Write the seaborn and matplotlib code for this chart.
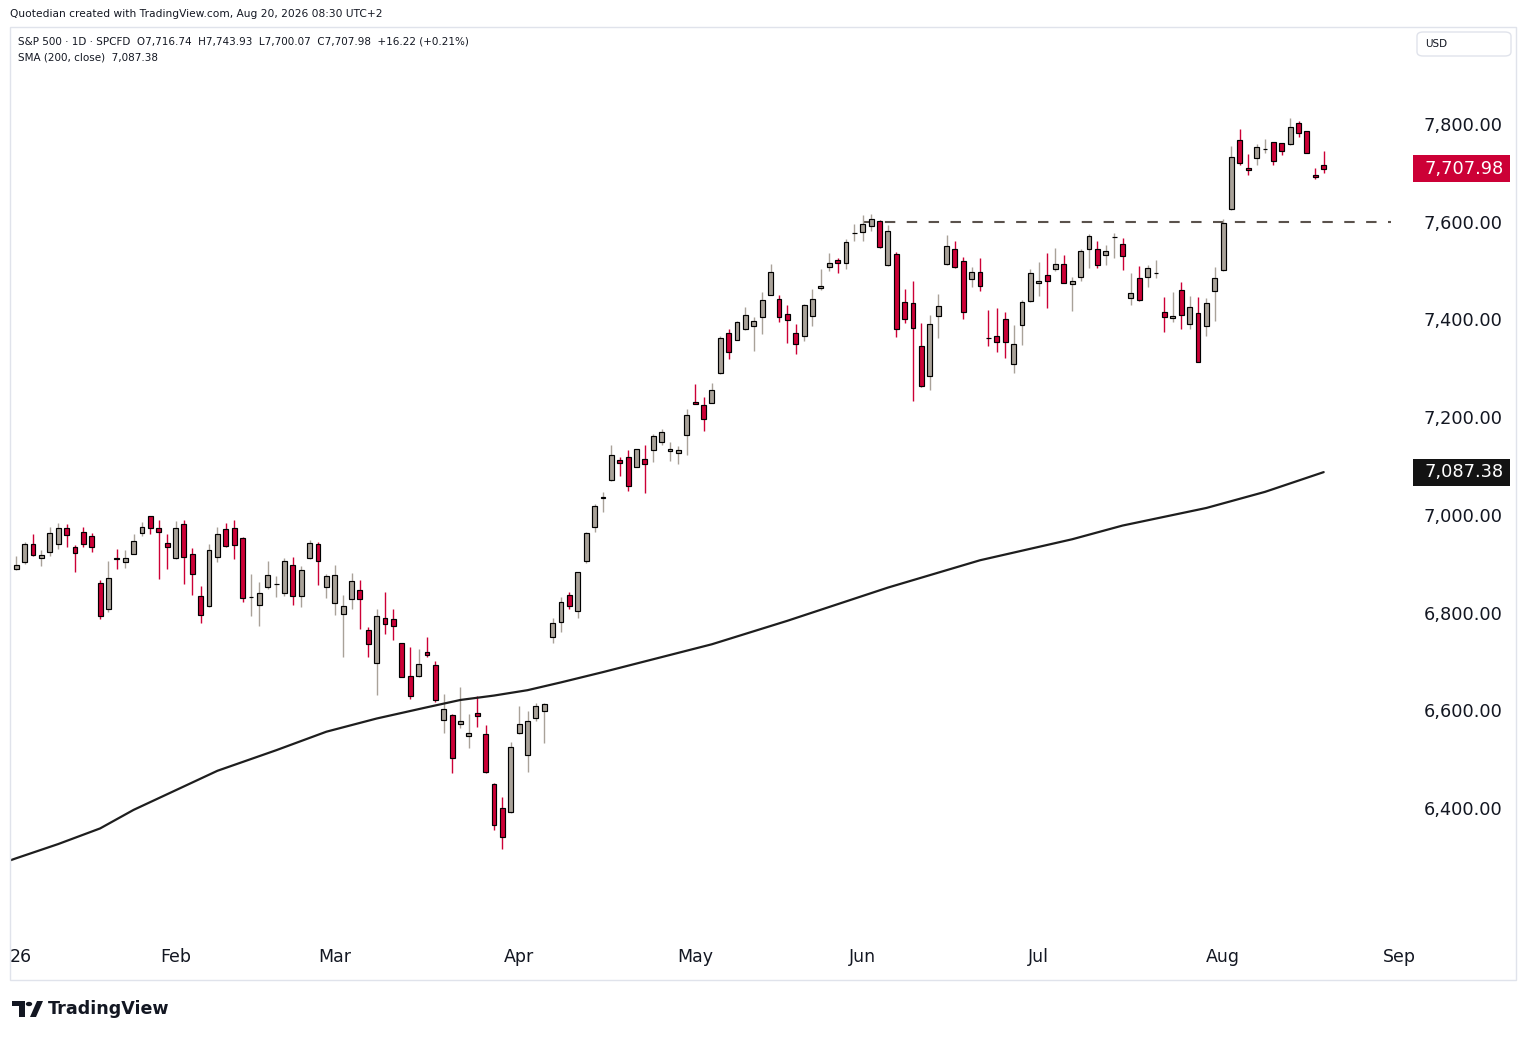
import numpy as np
import pandas as pd
import matplotlib
matplotlib.use("Agg")
import matplotlib.pyplot as plt
import matplotlib.transforms as mtransforms
from matplotlib.patches import Rectangle, FancyBboxPatch, Polygon, Circle
import seaborn as sns

# trading sessions (US market holidays are skipped, as on the chart)
holidays = ["2026-01-19", "2026-02-16", "2026-04-03", "2026-05-25", "2026-06-19", "2026-07-03"]
first_session = "2026-01-05"
last_session = "2026-08-19"

# S&P 500 daily candles, Jan 5 .. Aug 19 2026 (one line per month)
opens = [
    6889, 6903, 6940, 6911, 6924, 6940, 6973, 6934, 6964, 6956, 6860, 6807, 6911, 6903, 6920, 6962, 6997, 6973, 6942,
    6911, 6981, 6919, 6833, 6813, 6913, 6971, 6973, 6953, 6831, 6815, 6852, 6858, 6840, 6897, 6834, 6911, 6940, 6852,
    6819, 6797, 6827, 6846, 6764, 6696, 6788, 6786, 6737, 6670, 6670, 6719, 6692, 6580, 6591, 6572, 6547, 6594, 6551, 6449, 6400, 6391,
    6553, 6508, 6584, 6598, 6750, 6780, 6836, 6803, 6905, 6975, 7035, 7071, 7112, 7118, 7098, 7114, 7132, 7149, 7130, 7126, 7163,
    7231, 7224, 7229, 7290, 7372, 7358, 7380, 7386, 7405, 7450, 7441, 7411, 7372, 7366, 7407, 7464, 7507, 7521, 7515, 7576,
    7579, 7591, 7602, 7511, 7534, 7435, 7433, 7345, 7284, 7407, 7513, 7544, 7519, 7482, 7497, 7362, 7366, 7401, 7309, 7388, 7437,
    7474, 7491, 7503, 7513, 7472, 7487, 7544, 7544, 7532, 7568, 7554, 7444, 7484, 7487, 7494, 7415, 7403, 7460, 7390, 7413, 7386, 7458,
    7501, 7626, 7767, 7710, 7730, 7748, 7763, 7761, 7759, 7802, 7785, 7695, 7716.74,
]
highs = [
    6916, 6945, 6961, 6928, 6976, 6984, 6982, 6939, 6976, 6963, 6866, 6906, 6931, 6928, 6961, 6985, 6998, 6990, 6961,
    6988, 6990, 6932, 6855, 6941, 6975, 6984, 6990, 6954, 6879, 6863, 6906, 6875, 6912, 6914, 6896, 6948, 6944, 6879,
    6898, 6836, 6881, 6867, 6770, 6808, 6842, 6808, 6738, 6730, 6726, 6750, 6701, 6634, 6592, 6648, 6593, 6629, 6570, 6450, 6423, 6535,
    6608, 6599, 6615, 6615, 6789, 6831, 6842, 6883, 6964, 7022, 7047, 7143, 7118, 7133, 7135, 7143, 7166, 7175, 7149, 7141, 7216,
    7268, 7241, 7270, 7366, 7380, 7396, 7426, 7405, 7456, 7513, 7450, 7430, 7391, 7432, 7463, 7504, 7536, 7525, 7564, 7596,
    7614, 7616, 7603, 7594, 7538, 7463, 7479, 7393, 7409, 7452, 7573, 7561, 7528, 7507, 7525, 7419, 7423, 7415, 7388, 7440, 7503,
    7518, 7536, 7547, 7532, 7486, 7544, 7575, 7561, 7553, 7577, 7567, 7495, 7509, 7511, 7522, 7446, 7457, 7476, 7448, 7446, 7444, 7508,
    7606, 7755, 7790, 7738, 7759, 7770, 7764, 7762, 7813, 7807, 7786, 7710, 7743.93,
]
lows = [
    6887, 6900, 6916, 6896, 6915, 6931, 6935, 6882, 6935, 6923, 6786, 6802, 6890, 6891, 6919, 6956, 6960, 6868, 6890,
    6910, 6859, 6835, 6778, 6812, 6903, 6935, 6909, 6821, 6792, 6773, 6848, 6831, 6833, 6816, 6812, 6910, 6857, 6829,
    6794, 6708, 6808, 6767, 6708, 6632, 6757, 6743, 6667, 6623, 6669, 6708, 6617, 6554, 6471, 6563, 6522, 6565, 6471, 6354, 6315, 6390,
    6552, 6473, 6577, 6532, 6737, 6760, 6807, 6788, 6902, 6964, 7005, 7070, 7080, 7048, 7097, 7044, 7109, 7143, 7111, 7105, 7123,
    7226, 7171, 7228, 7289, 7318, 7357, 7379, 7336, 7371, 7449, 7394, 7351, 7330, 7355, 7386, 7460, 7499, 7496, 7504, 7560,
    7560, 7580, 7546, 7510, 7365, 7392, 7234, 7262, 7255, 7361, 7512, 7506, 7400, 7466, 7458, 7345, 7334, 7320, 7291, 7347, 7435,
    7447, 7424, 7499, 7474, 7418, 7478, 7505, 7505, 7511, 7525, 7501, 7429, 7437, 7466, 7484, 7374, 7394, 7380, 7380, 7312, 7367, 7396,
    7500, 7625, 7717, 7695, 7716, 7740, 7716, 7736, 7758, 7773, 7740, 7687, 7700.07,
]
closes = [
    6897, 6940, 6918, 6918, 6962, 6973, 6958, 6922, 6940, 6935, 6793, 6870, 6910, 6911, 6946, 6975, 6973, 6964, 6934,
    6973, 6913, 6879, 6795, 6928, 6960, 6937, 6939, 6830, 6832, 6840, 6876, 6859, 6905, 6834, 6887, 6942, 6905, 6874,
    6877, 6813, 6864, 6827, 6735, 6793, 6776, 6772, 6668, 6629, 6694, 6712, 6620, 6602, 6502, 6578, 6553, 6588, 6473, 6364, 6340, 6524,
    6572, 6578, 6608, 6612, 6778, 6821, 6813, 6883, 6963, 7018, 7036, 7122, 7106, 7059, 7134, 7104, 7161, 7169, 7134, 7132, 7204,
    7226, 7196, 7255, 7362, 7333, 7394, 7409, 7396, 7440, 7497, 7405, 7398, 7349, 7429, 7441, 7469, 7515, 7515, 7558, 7577,
    7595, 7605, 7549, 7581, 7380, 7401, 7382, 7263, 7390, 7427, 7550, 7507, 7415, 7497, 7468, 7361, 7354, 7354, 7349, 7435, 7495,
    7478, 7478, 7513, 7474, 7478, 7540, 7570, 7511, 7540, 7569, 7530, 7454, 7439, 7505, 7495, 7405, 7407, 7409, 7425, 7313, 7433, 7484,
    7597, 7732, 7720, 7706, 7753, 7749, 7724, 7744, 7794, 7781, 7740, 7691.76, 7707.98,
]

# SMA(200, close) at a few sessions
sma_dates = ["2026-01-02", "2026-01-05", "2026-01-12", "2026-01-20", "2026-01-26", "2026-01-30", "2026-02-09",
             "2026-02-19", "2026-02-27", "2026-03-09", "2026-03-17", "2026-03-23", "2026-03-27",
             "2026-04-02", "2026-04-09", "2026-04-16", "2026-05-05", "2026-05-18", "2026-06-04",
             "2026-06-22", "2026-07-08", "2026-07-16", "2026-07-30", "2026-08-10", "2026-08-19"]
sma_values = [6291, 6297, 6326, 6358, 6396, 6428, 6476,
              6518, 6556, 6583, 6606, 6621, 6630,
              6641, 6657, 6678, 6735, 6783, 6851,
              6907, 6950, 6978, 7014, 7047, 7087.38]

resistance = 7600
resistance_from, resistance_to = "2026-06-01", "2026-08-31"

price_ticks = [6400, 6600, 6800, 7000, 7200, 7400, 7600, 7800]
month_labels = ["Feb", "Mar", "Apr", "May", "Jun", "Jul", "Aug", "Sep"]

UP = "#a9a299"
DOWN = "#cc0036"
INK = "#131722"

# session axis: bars are spaced by session, not by calendar day
hol = pd.to_datetime(holidays)
all_days = pd.bdate_range("2026-01-02", "2026-09-30")
all_days = all_days[~all_days.isin(hol)]
pos_of = {d: i - 1 for i, d in enumerate(all_days)}   # Jan 5 -> 0

days = all_days[(all_days >= first_session) & (all_days <= last_session)]
df = pd.DataFrame({"date": days, "open": opens, "high": highs, "low": lows, "close": closes})
df["pos"] = df["date"].map(pos_of)
df["up"] = df["close"] >= df["open"]
colors = np.where(df["up"], UP, DOWN)

sma_df = pd.DataFrame({"date": pd.to_datetime(sma_dates), "sma": sma_values})
sma_df["pos"] = sma_df["date"].map(pos_of)

W, H = 1526, 1040
sns.set_theme(style="white")
plt.rcParams["font.family"] = ["DejaVu Sans"]

fig = plt.figure(figsize=(W / 100, H / 100), dpi=100)
fig.patch.set_facecolor("white")


def fx(px):
    return px / W


def fy(py):
    return 1 - py / H


ax = fig.add_axes([fx(10), fy(940), fx(1410) - fx(10), fy(27) - fy(940)])
ax.set_facecolor("white")

# candles
ax.vlines(df["pos"], df["low"], df["high"], colors=colors, linewidth=1.0, zorder=2)
body = np.maximum((df["close"] - df["open"]).abs(), 0.6)
ax.bar(df["pos"], body, bottom=np.minimum(df["open"], df["close"]), width=0.58,
       color=colors, edgecolor="black", linewidth=0.85, zorder=3)

# moving average
sns.lineplot(data=sma_df, x="pos", y="sma", ax=ax, color="#1e1e1e", linewidth=1.6, zorder=4)

# horizontal resistance line
ax.hlines(resistance, pos_of[pd.Timestamp(resistance_from)], pos_of[pd.Timestamp(resistance_to)],
          colors="#5a524c", linewidth=1.5, linestyles=(0, (5.0, 5.5)), zorder=1)

ax.set_xlim(-0.75, 166.3)
ax.set_ylim(6129.6, 7998.6)
ax.set_xlabel("")
ax.set_ylabel("")
for s in ax.spines.values():
    s.set_visible(False)

# month ticks at the first session of each month
month_starts = [all_days[all_days.month == m][0] for m in range(2, 10)]
ax.set_xticks([pos_of[d] for d in month_starts])
ax.set_xticklabels(month_labels)
ax.tick_params(axis="x", length=0, pad=6, labelsize=12.5, colors=INK)
ax.annotate("26", xy=(0, 0), xycoords="axes fraction", xytext=(0, -6), textcoords="offset points",
            ha="left", va="top", fontsize=12.5, color=INK)

ax.yaxis.tick_right()
ax.set_yticks(price_ticks)
ax.set_yticklabels([f"{v:,.2f}" for v in price_ticks])
ax.tick_params(axis="y", length=0, pad=10, labelsize=12.8, colors=INK)
ax.grid(False)

# price badges on the scale
blend = mtransforms.blended_transform_factory(fig.transFigure, ax.transData)
px_per_pt = 913 / (7998.6 - 6129.6)
for val, col in [(closes[-1], DOWN), (sma_values[-1], "#131313")]:
    half = 13.5 / px_per_pt
    ax.add_patch(Rectangle((fx(1413), val - half), fx(1510) - fx(1413), 2 * half,
                           transform=blend, facecolor=col, edgecolor="none", clip_on=False, zorder=6))
    ax.text(fx(1464.5), val, f"{val:,.2f}", transform=blend, ha="center", va="center",
            fontsize=12.8, color="white", clip_on=False, zorder=7)

# frame of the chart pane and the currency box
fig.add_artist(Rectangle((fx(10), fy(980)), fx(1516) - fx(10), fy(27) - fy(980),
                         transform=fig.transFigure, fill=False, edgecolor="#e0e3eb", linewidth=1))
fig.add_artist(FancyBboxPatch((fx(1417), fy(56)), fx(1511) - fx(1417), fy(32) - fy(56),
                              boxstyle="round,pad=0,rounding_size=0.004", transform=fig.transFigure,
                              fill=False, edgecolor="#e0e3eb", linewidth=1))
fig.text(fx(1425), fy(44), "USD", ha="left", va="center", fontsize=7.5, color=INK)

# header and legend texts
fig.text(fx(10), fy(14), "Quotedian created with TradingView.com, Aug 20, 2026 08:30 UTC+2",
         ha="left", va="center", fontsize=7.7, color=INK)
fig.text(fx(18), fy(41),
         "S&P 500 · 1D · SPCFD  O7,716.74  H7,743.93  L7,700.07  C7,707.98  +16.22 (+0.21%)",
         ha="left", va="center", fontsize=7.5, color=INK)
fig.text(fx(18), fy(58), "SMA (200, close)  7,087.38", ha="left", va="center", fontsize=7.5, color=INK)

# TradingView logo
fig.add_artist(Polygon([(fx(12), fy(1001)), (fx(25), fy(1001)), (fx(25), fy(1017)), (fx(19), fy(1017)),
                        (fx(19), fy(1006)), (fx(12), fy(1006))], closed=True,
                       transform=fig.transFigure, facecolor=INK, edgecolor="none"))
fig.add_artist(Circle((fx(29), fy(1004)), 3.2 / W, transform=fig.transFigure, facecolor=INK, edgecolor="none"))
fig.add_artist(Polygon([(fx(30), fy(1017)), (fx(37), fy(1001)), (fx(43), fy(1001)), (fx(36), fy(1017))],
                       closed=True, transform=fig.transFigure, facecolor=INK, edgecolor="none"))
fig.text(fx(48), fy(1009.5), "TradingView", ha="left", va="center", fontsize=12.6,
         fontweight="bold", color=INK)

fig.savefig("out.png", dpi=100)
